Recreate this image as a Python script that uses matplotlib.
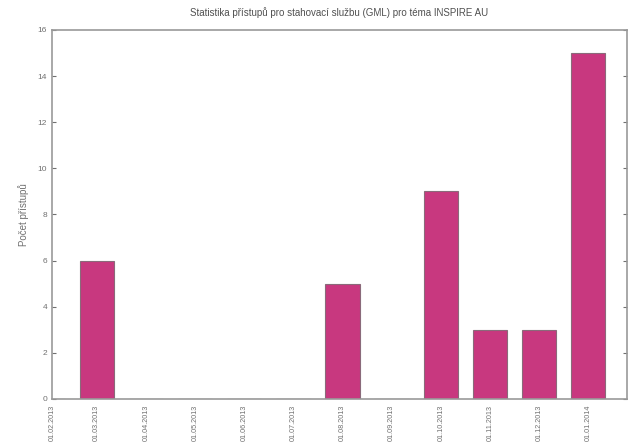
import matplotlib.pyplot as plt
import numpy as np

plt.rcParams['font.family'] = ['Liberation Sans', 'DejaVu Sans']

months = ["01.02.2013", "01.03.2013", "01.04.2013", "01.05.2013", "01.06.2013",
          "01.07.2013", "01.08.2013", "01.09.2013", "01.10.2013", "01.11.2013",
          "01.12.2013", "01.01.2014"]
counts = [0, 6, 0, 0, 0, 0, 5, 0, 9, 3, 3, 15]

grey = "#999999"
text_grey = "#707070"

fig = plt.figure(figsize=(6.31, 4.45), dpi=100)
ax = fig.add_axes([0.0824, 0.1034, 0.9113, 0.8292])

x = np.arange(len(months))
ax.bar(x, counts, width=0.7, color="#c8387f", edgecolor="#8a6a7a", linewidth=0.8)

xmin = 0.09
ax.set_xlim(xmin, 11.79)
ax.set_ylim(0, 16)
ax.set_yticks(range(0, 17, 2))
# first label sits on the left frame
ax.set_xticks(np.clip(x, xmin, None))
ax.set_xticklabels(months, rotation=90, fontsize=5.2, color=text_grey)
ax.tick_params(axis='y', labelsize=6, colors=text_grey, direction='in', right=True, length=3)
ax.tick_params(axis='x', direction='in', length=0, pad=4)
for s in ax.spines.values():
    s.set_color(grey)
    s.set_linewidth(1.2)

ax.set_ylabel("Počet přístupů", fontsize=7, color=text_grey, labelpad=6)
ax.set_title("Statistika přístupů pro stahovací službu (GML) pro téma INSPIRE AU",
             fontsize=7, color="#505050", pad=10)

fig.savefig("out.png", dpi=100)
